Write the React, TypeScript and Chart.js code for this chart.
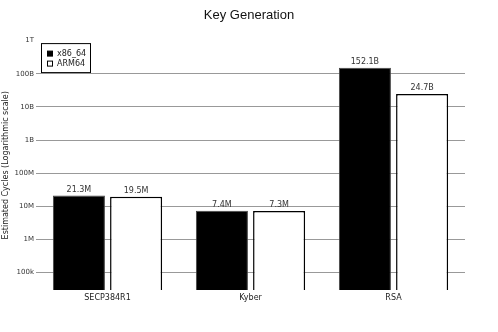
import React, { useEffect, useRef } from "react";
import { Chart, registerables } from "chart.js";

Chart.register(...registerables);

const categories = ["SECP384R1", "Kyber", "RSA"];
const x86Values = [21.3e6, 7.4e6, 152.1e9];
const armValues = [19.5e6, 7.3e6, 24.7e9];
const seriesNames = ["x86_64", "ARM64"];
const tickValues = [1e5, 1e6, 1e7, 1e8, 1e9, 1e10, 1e11, 1e12];
const tickLabels = ["100k", "1M", "10M", "100M", "1B", "10B", "100B", "1T"];

const FONT = "'DejaVu Sans', sans-serif";

function fmt(v: number): string {
  if (v >= 1e9) return (v / 1e9).toFixed(1) + "B";
  if (v >= 1e6) return (v / 1e6).toFixed(1) + "M";
  if (v >= 1e3) return (v / 1e3).toFixed(1) + "k";
  return String(v);
}

const valueLabels = {
  id: "valueLabels",
  afterDatasetsDraw(chart: any) {
    const ctx = chart.ctx;
    ctx.save();
    ctx.font = "8px " + FONT;
    ctx.fillStyle = "#333";
    ctx.textAlign = "center";
    ctx.textBaseline = "bottom";
    chart.data.datasets.forEach((ds: any, i: number) => {
      const meta = chart.getDatasetMeta(i);
      meta.data.forEach((el: any, j: number) => {
        ctx.fillText(fmt(ds.data[j]), el.x, el.y - 2);
      });
    });
    ctx.restore();
  },
};

const boxLegend = {
  id: "boxLegend",
  afterDraw(chart: any) {
    const ctx = chart.ctx;
    const a = chart.chartArea;
    const x = a.left + 5;
    const y = a.top + 2.5;
    const w = 50;
    const h = 30;
    ctx.save();
    ctx.fillStyle = "#fff";
    ctx.fillRect(x, y, w, h);
    ctx.strokeStyle = "#000";
    ctx.lineWidth = 1;
    ctx.strokeRect(x + 0.5, y + 0.5, w - 1, h - 1);
    ctx.font = "8px " + FONT;
    ctx.textBaseline = "middle";
    ctx.textAlign = "left";
    chart.data.datasets.forEach((ds: any, i: number) => {
      const cy = y + 10.5 + i * 10;
      ctx.fillStyle = ds.backgroundColor;
      ctx.fillRect(x + 6.5, cy - 2.5, 5, 5);
      ctx.strokeStyle = "#000";
      ctx.strokeRect(x + 6.5, cy - 2.5, 5, 5);
      ctx.fillStyle = "#222";
      ctx.fillText(ds.label, x + 16, cy);
    });
    ctx.restore();
  },
};

export default function App() {
  const ref = useRef<HTMLCanvasElement>(null);
  useEffect(() => {
    if (!ref.current) return;
    const chart = new Chart(ref.current, {
      type: "bar",
      data: {
        labels: categories,
        datasets: [
          {
            label: seriesNames[0],
            data: x86Values,
            backgroundColor: "#000",
            borderColor: "#444",
            borderWidth: 1,
            categoryPercentage: 0.8,
            barPercentage: 0.91,
          },
          {
            label: seriesNames[1],
            data: armValues,
            backgroundColor: "#fff",
            borderColor: "#000",
            borderWidth: 1.5,
            categoryPercentage: 0.8,
            barPercentage: 0.91,
          },
        ],
      },
      options: {
        animation: false,
        responsive: true,
        maintainAspectRatio: false,
        layout: { padding: 0 },
        plugins: {
          legend: { display: false },
          tooltip: { enabled: false },
          title: {
            display: true,
            text: "Key Generation",
            color: "#111",
            font: { family: "'Liberation Sans', Arial, sans-serif", size: 13, weight: "normal" },
            padding: { top: 7.5, bottom: 17.5 },
          },
        },
        scales: {
          x: {
            grid: { display: false, drawTicks: false },
            border: { display: false },
            ticks: {
              color: "#222",
              font: { family: FONT, size: 8 },
              padding: 3,
            },
            afterFit(scale: any) {
              scale.height = 42;
            },
          },
          y: {
            type: "logarithmic",
            min: 3e4,
            max: 1e12,
            border: { display: false },
            grid: {
              drawTicks: false,
              color: (c: any) => (c.tick && c.tick.value >= 1e12 ? "rgba(0,0,0,0)" : "#999"),
              lineWidth: 1,
            },
            afterBuildTicks(scale: any) {
              scale.ticks = tickValues.map((v) => ({ value: v }));
            },
            ticks: {
              color: "#333",
              font: { family: FONT, size: 7 },
              padding: 2,
              autoSkip: false,
              callback: (v: any) => {
                const i = tickValues.indexOf(Number(v));
                return i >= 0 ? tickLabels[i] : "";
              },
            },
            title: {
              display: true,
              text: "Estimated Cycles (Logarithmic scale)",
              color: "#222",
              font: { family: FONT, size: 8 },
              padding: { top: 1, bottom: 0 },
            },
            afterFit(scale: any) {
              scale.width = 36;
            },
          },
          yRight: {
            type: "linear",
            position: "right",
            display: true,
            grid: { display: false, drawTicks: false },
            border: { display: false },
            ticks: { display: false },
            afterFit(scale: any) {
              scale.width = 33;
            },
          },
        },
      },
      plugins: [valueLabels, boxLegend],
    } as any);
    return () => chart.destroy();
  }, []);
  return (
    <div style={{ position: "absolute", left: 0, top: 0, width: 498, height: 332, background: "#fff" }}>
      <canvas ref={ref} />
    </div>
  );
}
